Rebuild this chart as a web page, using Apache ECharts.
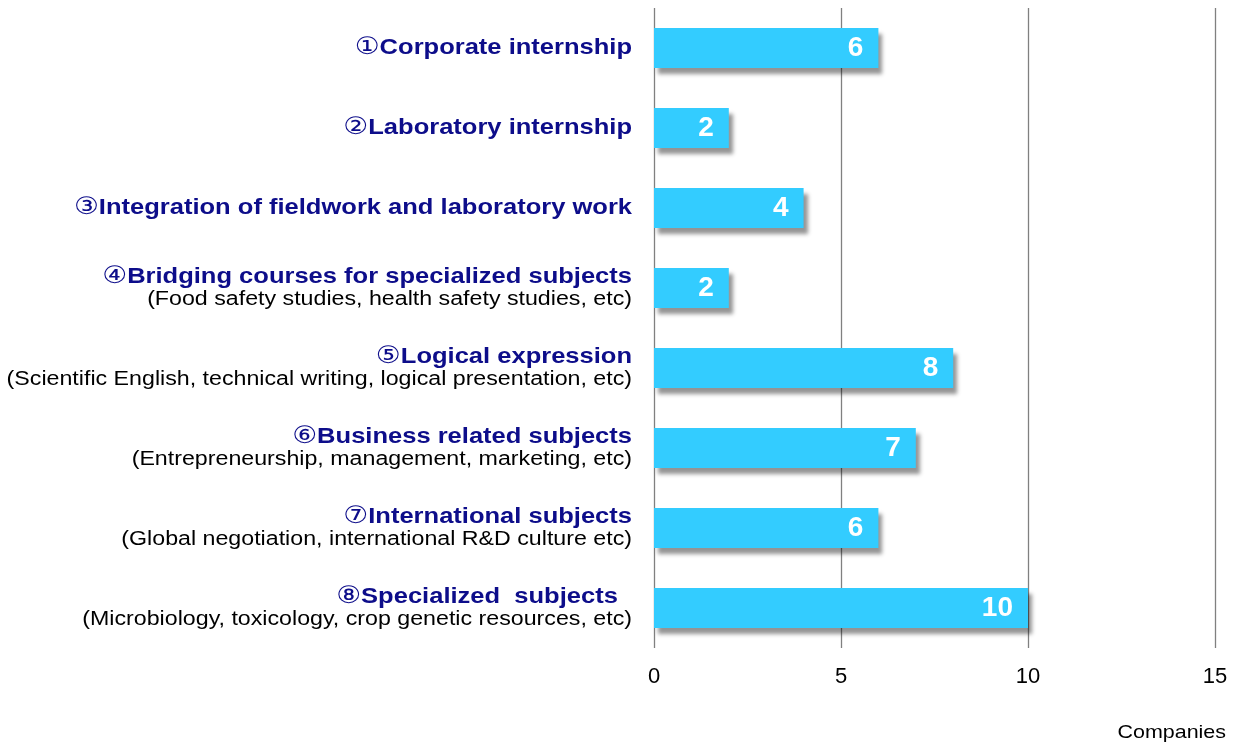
<!DOCTYPE html>
<html>
<head>
<meta charset="utf-8">
<script src="https://cdn.jsdelivr.net/npm/echarts@6/dist/echarts.min.js"></script>
<style>
  html, body { margin: 0; padding: 0; background: #fff; }
  #chart { width: 1236px; height: 746px; }
</style>
</head>
<body>
<div id="chart"></div>
<script>
// Course topics (heading + optional detail line) and number of companies
const topicTitles = [
  '①Corporate internship',
  '②Laboratory internship',
  '③Integration of fieldwork and laboratory work',
  '④Bridging courses for specialized subjects',
  '⑤Logical expression',
  '⑥Business related subjects',
  '⑦International subjects',
  '⑧Specialized  subjects  '
];
const topicDetails = [
  '',
  '',
  '',
  '(Food safety studies, health safety studies, etc)',
  '(Scientific English, technical writing, logical presentation, etc)',
  '(Entrepreneurship, management, marketing, etc)',
  '(Global negotiation, international R&D culture etc)',
  '(Microbiology, toxicology, crop genetic resources, etc)'
];
const companies = [6, 2, 4, 2, 8, 7, 6, 10];
const axisTicks = [0, 5, 10, 15];
const axisTitle = 'Companies';

const FONT = '"Liberation Sans", Arial, "DejaVu Sans", sans-serif';
const CIRCLED = '"DejaVu Sans", "Noto Sans CJK JP", sans-serif';
const WIDE = 1.16;   // labels are set in a slightly widened face
const NAVY = '#0d0d8a';
const categories = topicTitles.map((t, i) => i);

const chart = echarts.init(document.getElementById('chart'));
chart.setOption({
  animation: false,
  textStyle: { fontFamily: FONT },
  grid: { left: 654, right: 21, top: 8, bottom: 98, containLabel: false },
  xAxis: {
    type: 'value',
    min: axisTicks[0],
    max: axisTicks[axisTicks.length - 1],
    interval: axisTicks[1] - axisTicks[0],
    axisLine: { show: false },
    axisTick: { show: false },
    axisLabel: { margin: 18, fontSize: 22, color: '#000', fontFamily: FONT },
    splitLine: { show: true, lineStyle: { color: '#808080', width: 1.3 } }
  },
  yAxis: {
    type: 'category',
    inverse: true,
    data: categories,
    axisLine: { show: false },
    axisTick: { show: false },
    axisLabel: { show: false }
  },
  series: [{
    type: 'bar',
    data: companies,
    barWidth: 40,
    itemStyle: {
      color: '#33ccff',
      shadowColor: 'rgba(0,0,0,0.42)',
      shadowBlur: 4,
      shadowOffsetX: 4,
      shadowOffsetY: 6
    },
    label: {
      show: true,
      position: 'insideRight',
      distance: 15,
      color: '#fff',
      fontSize: 28,
      fontWeight: 'bold',
      fontFamily: FONT
    }
  }]
});

// Category labels: bold heading with circled number, plus detail line
const labelRight = 632;
const labels = categories.map((i) => {
  const cy = chart.convertToPixel({ yAxisIndex: 0 }, i);
  const title = topicTitles[i];
  let text = '{c|' + title.charAt(0) + '}{t|' + title.slice(1) + '}';
  if (topicDetails[i]) text += '\n{d|' + topicDetails[i] + '}';
  return {
    type: 'text',
    x: labelRight,
    y: cy,
    scaleX: WIDE,
    silent: true,
    style: {
      text: text,
      align: 'right',
      verticalAlign: 'middle',
      rich: {
        c: { fontSize: 24, fill: NAVY, fontFamily: CIRCLED, lineHeight: 23, align: 'right' },
        t: { fontSize: 22, fontWeight: 'bold', fill: NAVY, fontFamily: FONT, lineHeight: 23, align: 'right' },
        d: { fontSize: 20, fill: '#000', fontFamily: FONT, lineHeight: 23, align: 'right' }
      }
    }
  };
});

labels.push({
  type: 'text',
  x: 1226,
  y: 733,
  scaleX: WIDE,
  silent: true,
  style: {
    text: axisTitle,
    align: 'right',
    verticalAlign: 'middle',
    font: '18.5px ' + FONT,
    fill: '#000'
  }
});

chart.setOption({ graphic: labels });
</script>
</body>
</html>
